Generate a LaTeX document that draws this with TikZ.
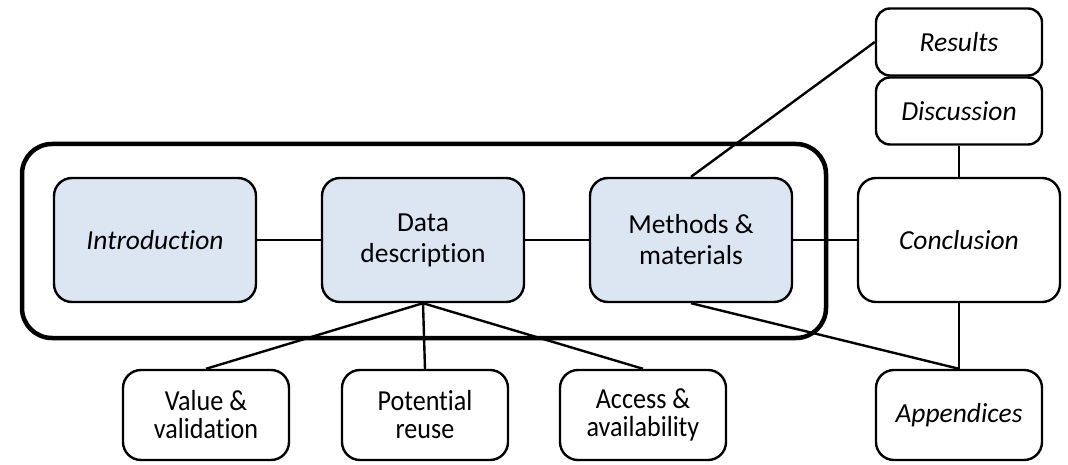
\documentclass[tikz,border=0pt]{standalone}
\usepackage{fontspec}
\setmainfont[Ligatures=NoCommon]{Carlito}
\newfontfamily\condfont[FakeStretch=0.9,Ligatures=NoCommon]{Carlito}
\definecolor{boxblue}{HTML}{DCE6F2}
\begin{document}
\begin{tikzpicture}[x=1pt,y=-1pt,
  box/.style={draw=black, line width=2.4pt, rounded corners=18pt, align=center, inner sep=0pt, fill=white, font=\fontsize{27.5}{31}\selectfont},
  bluebox/.style={box, fill=boxblue, minimum width=202pt, minimum height=124pt},
  smallbox/.style={box, minimum width=166pt, minimum height=67pt, rounded corners=14pt},
  lowbox/.style={box, minimum width=166pt, minimum height=90pt, font=\condfont\fontsize{29}{28}\selectfont},
  link/.style={line width=2.4pt}]
\useasboundingbox (0,0) rectangle (1068,465);
\node[draw=black, line width=4.5pt, rounded corners=30pt, minimum width=804pt, minimum height=194pt] (outer) at (424,241) {};
\node[bluebox] (intro) at (155,240) {\itshape Introduction};
\node[bluebox] (data) at (423,240) {Data\\description};
\node[bluebox] (meth) at (691,240) {Methods \&\\materials};
\node[box, minimum width=202pt, minimum height=124pt] (conc) at (959,240) {\itshape Conclusion};
\node[smallbox] (res) at (959,42) {\itshape Results};
\node[smallbox] (disc) at (959,111) {\itshape Discussion};
\node[lowbox] (val) at (206,415) {Value \&\\validation};
\node[lowbox] (pot) at (425,415) {Potential\\reuse};
\node[lowbox] (acc) at (643,415) {Access \&\\availability};
\node[lowbox, font=\fontsize{27.5}{30}\selectfont] (app) at (959,415) {\itshape Appendices};
\draw[link] (intro.east) -- (data.west);
\draw[link] (data.east) -- (meth.west);
\draw[link] (meth.east) -- (conc.west);
\draw[link] (meth.north) -- (res.west);
\draw[link] (disc.south) -- (conc.north);
\draw[link] (conc.south) -- (app.north);
\draw[link] (meth.south) -- (app.north);
\draw[link] (data.south) -- (val.north);
\draw[link] (data.south) -- (pot.north);
\draw[link] (data.south) -- (acc.north);
\end{tikzpicture}
\end{document}
